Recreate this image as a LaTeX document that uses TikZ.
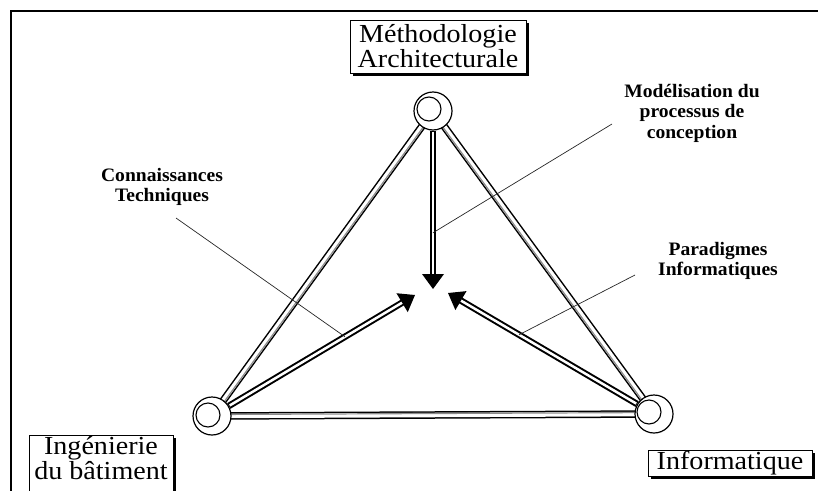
\documentclass[tikz,border=0pt]{standalone}
\usepackage{fontspec}
\setmainfont{Liberation Serif}
\newfontfamily\boxfont[FakeStretch=1.08]{Liberation Serif}
\newfontfamily\notefont[FakeStretch=1.03]{Liberation Serif}
\usetikzlibrary{calc,shadows}

\tikzset{
  frameline/.style={line width=2pt},
  titlebox/.style={draw, line width=0.8pt, fill=white, inner sep=0pt, align=center,
    font=\boxfont\fontsize{26}{25}\selectfont,
    drop shadow={shadow xshift=3pt, shadow yshift=-3pt, fill=black, opacity=1}},
  note/.style={align=center, inner sep=1pt, font=\notefont\bfseries\fontsize{19}{20.5}\selectfont},
  hub/.style={circle, draw, line width=1.2pt, fill=white, minimum size=38pt, inner sep=0pt},
  hubinner/.style={line width=1.1pt},
  railouter/.style={line width=7.5pt, black},
  railinner/.style={line width=4.5pt, white},
  railshade/.style={line width=1.2pt, black!45},
  shaftouter/.style={line width=6.5pt, black},
  shaftinner/.style={line width=2.5pt, white},
  leader/.style={line width=0.7pt, black!85},
}

\begin{document}
\begin{tikzpicture}[x=1pt, y=-1pt]
\useasboundingbox (0,0) rectangle (818,490);
\clip (0,0) rectangle (818,490);

% open frame: left and top sides
\draw[frameline] (11,492) -- (11,11) -- (820,11);

% hub centres
\coordinate (cT) at (433,111);
\coordinate (cL) at (212,416);
\coordinate (cR) at (654,414);

% triangle rails: black, white core, grey shading on the inner side
\draw[railouter] (cT) -- (cL) (cL) -- (cR) (cR) -- (cT);
\draw[railinner] (cT) -- (cL) (cL) -- (cR) (cR) -- (cT);
\draw[railshade] ($(cT)+(1.2,0.9)$) -- ($(cL)+(1.2,0.9)$);
\draw[railshade] ($(cL)+(0,-1.5)$) -- ($(cR)+(0,-1.5)$);
\draw[railshade] ($(cR)+(-1.2,0.9)$) -- ($(cT)+(-1.2,0.9)$);

% hubs
\node[hub] (T) at (cT) {};
\node[hub] (L) at (cL) {};
\node[hub] (R) at (cR) {};
\draw[hubinner] ($(cT)+(-4,-2)$) circle (12pt);
\draw[hubinner] ($(cL)+(-4,-1)$) circle (12pt);
\draw[hubinner] ($(cR)+(-5,-2)$) circle (12pt);

% arrow tips near the centre
\coordinate (tipV) at (433,289);
\coordinate (tipL) at (415,295);
\coordinate (tipR) at (448,293);

% arrow shafts
\coordinate (baseV) at ($(tipV)!14pt!(cT)$);
\coordinate (baseL) at ($(tipL)!14pt!(cL)$);
\coordinate (baseR) at ($(tipR)!14pt!(cR)$);
\draw[shaftouter] (T) -- (baseV);
\draw[shaftouter] (L) -- (baseL);
\draw[shaftouter] (R) -- (baseR);
\draw[shaftinner, shorten <=1pt] (T) -- (baseV);
\draw[shaftinner, shorten <=1pt] (L) -- (baseL);
\draw[shaftinner, shorten <=1pt] (R) -- (baseR);

% arrow heads
\foreach \t/\s in {tipV/cT, tipL/cL, tipR/cR}{
  \coordinate (hb) at ($(\t)!15pt!(\s)$);
  \fill ($(hb)!11pt!90:(\t)$) -- (\t) -- ($(hb)!11pt!-90:(\t)$) -- cycle;
}

% title boxes
\node[titlebox, minimum width=176pt, minimum height=53pt] (meth) at (438,46.5)
  {Méthodologie\\Architecturale};
\node[titlebox, minimum width=144pt, anchor=north, inner ysep=1pt, text depth=16pt] (inge) at (101,435)
  {Ingénierie\\du bâtiment};
\node[titlebox, minimum width=164pt, minimum height=26pt] (info) at (730,463)
  {Informatique};

% annotations
\node[note] (mod) at (692,113) {Modélisation du\\processus de\\conception};
\node[note] (con) at (162,187) {Connaissances\\Techniques};
\node[note] (par) at (718,261) {Paradigmes\\Informatiques};

% leader lines onto the arrows
\coordinate (onV) at ($(T.south)!0.645!(tipV)$);
\coordinate (onL) at ($(cL)!0.655!(tipL)$);
\coordinate (onR) at ($(cR)!0.655!(tipR)$);
\draw[leader] ($(mod.center)+(-80,11)$) -- (onV);
\draw[leader] ($(con.center)+(14,31)$) -- (onL);
\draw[leader] ($(par.center)+(-83,14)$) -- (onR);
\end{tikzpicture}
\end{document}
